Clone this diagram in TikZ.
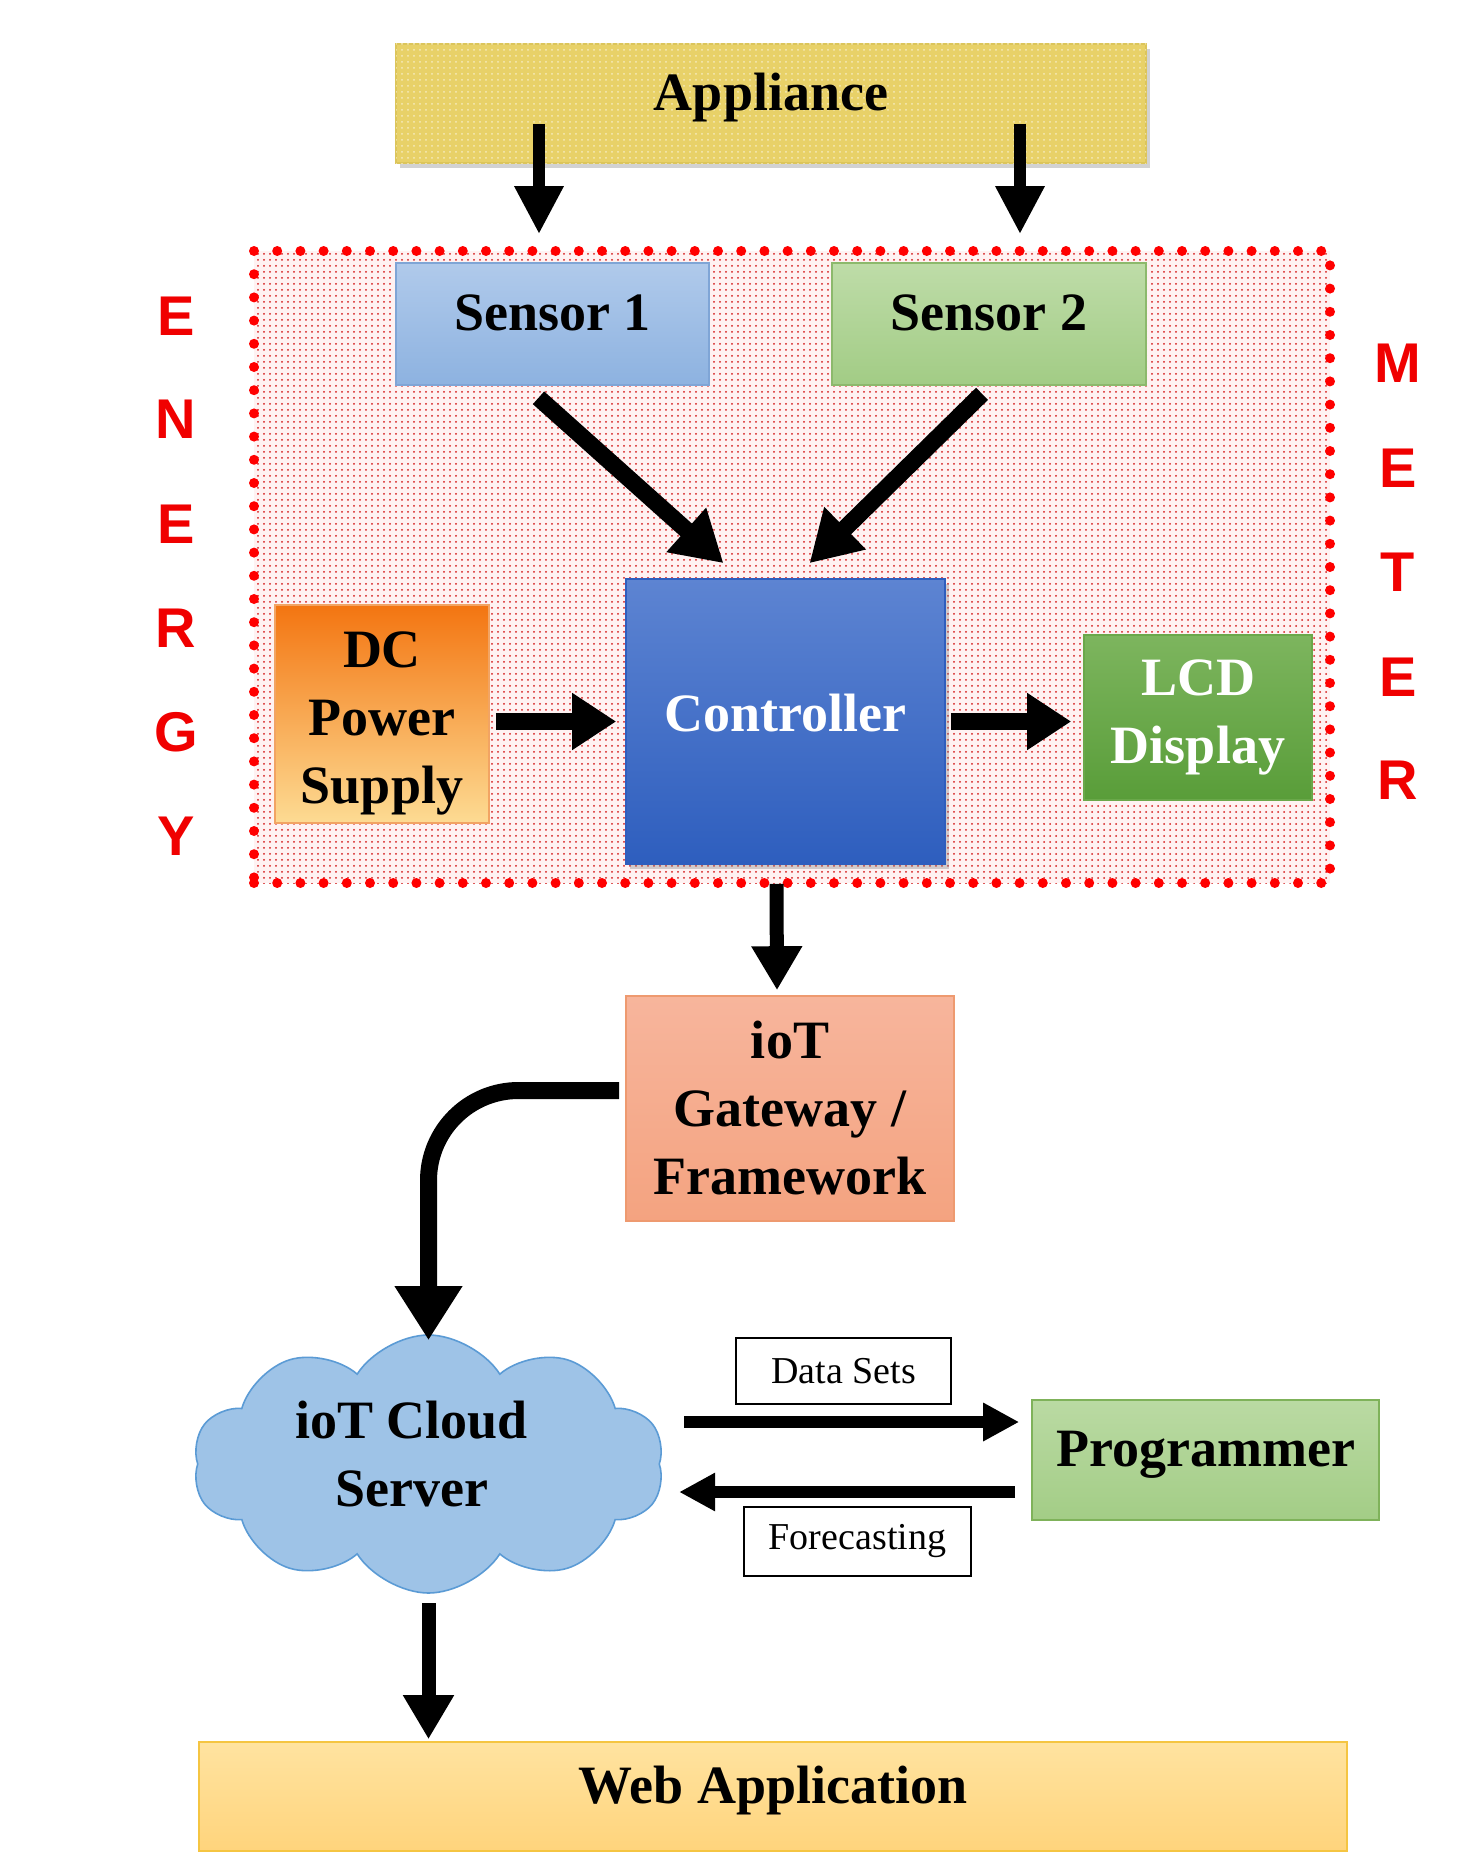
\documentclass[tikz,border=0pt]{standalone}
\usepackage{fontspec}
\setmainfont{Liberation Serif}
\newfontfamily\lsans{Liberation Sans}
\usetikzlibrary{arrows.meta,shapes.symbols,shadows,patterns}
\definecolor{appF}{HTML}{E8D168}
\definecolor{appD}{HTML}{DCC55A}
\definecolor{s1T}{HTML}{B0CAEB}
\definecolor{s1B}{HTML}{8DB2E0}
\definecolor{s1D}{HTML}{7FA5D6}
\definecolor{s2T}{HTML}{BEDCA8}
\definecolor{s2B}{HTML}{A2CC85}
\definecolor{s2D}{HTML}{8CB96C}
\definecolor{ctT}{HTML}{5D84D2}
\definecolor{ctB}{HTML}{2E5EBE}
\definecolor{dcT}{HTML}{F37511}
\definecolor{dcB}{HTML}{FDDB93}
\definecolor{dcD}{HTML}{F2A463}
\definecolor{lcdT}{HTML}{7DB55E}
\definecolor{lcdB}{HTML}{599D39}
\definecolor{lcdD}{HTML}{6AA84A}
\definecolor{gwT}{HTML}{F7B59C}
\definecolor{gwB}{HTML}{F4A380}
\definecolor{gwD}{HTML}{EE9A70}
\definecolor{cloudF}{HTML}{9EC3E7}
\definecolor{cloudD}{HTML}{5B9BD5}
\definecolor{prT}{HTML}{BADAA3}
\definecolor{prB}{HTML}{A3CD86}
\definecolor{prD}{HTML}{7FB25A}
\definecolor{webT}{HTML}{FFE3A0}
\definecolor{webB}{HTML}{FFD47C}
\definecolor{webD}{HTML}{F5C542}
\definecolor{dotred}{HTML}{D41A1A}
\definecolor{letred}{HTML}{F00000}
\begin{document}
\begin{tikzpicture}[x=0.5pt,y=-0.5pt,
  lbl/.style={font=\fontsize{27}{34}\selectfont\bfseries, align=center, inner sep=0pt},
  blk/.style={lbl, draw, line width=0.8pt},
  tbox/.style={draw, line width=1pt, fill=white, inner sep=0pt, font=\fontsize{19}{22}\selectfont},
  redl/.style={font=\lsans\bfseries\fontsize{28}{30}\selectfont, text=letred, inner sep=0pt},
  region/.style={minimum width=538pt, minimum height=316pt, preaction={fill=red!5},
     pattern=dots, pattern color=dotred,
     draw=red, line width=5pt, line cap=round, dash pattern=on 0pt off 11.6pt, inner sep=0pt},
  shad/.style={drop shadow={shadow xshift=2pt, shadow yshift=-2.5pt, opacity=0.35}},
  arrA/.style={line width=6pt, -{Triangle[width=23pt,length=24pt]}},
  arrD/.style={line width=8.5pt, -{Triangle[width=28pt,length=25pt]}},
  arrH/.style={line width=8.5pt, -{Triangle[width=27pt,length=22pt]}},
  arrV/.style={line width=7pt, -{Triangle[width=24pt,length=22pt]}},
  arrC/.style={line width=8.5pt, -{Triangle[width=32pt,length=27pt]}, rounded corners=45pt},
  arrS/.style={line width=6pt, -{Triangle[width=18pt,length=18pt]}}
]
\useasboundingbox (0,0) rectangle (1474,1868);
\fill[white] (0,0) rectangle (1474,1868);

% energy meter region
\node[region] (reg) at (792,567) {};

% blocks
\node[blk, draw=appD, fill=appF, minimum width=375pt, minimum height=59.5pt, shad, text depth=12pt,
      postaction={pattern=dots, pattern color=white!55!appF}] (app) at (771,103.5) {Appliance};
\node[blk, draw=s1D, top color=s1T, bottom color=s1B, minimum width=156.5pt, minimum height=61pt, text depth=11pt] (s1) at (552.5,324) {Sensor 1};
\node[blk, draw=s2D, top color=s2T, bottom color=s2B, minimum width=157pt, minimum height=61pt, text depth=11pt] (s2) at (989,324) {Sensor 2};
\node[blk, draw=ctB, top color=ctT, bottom color=ctB, text=white, minimum width=159.5pt, minimum height=142.5pt, shad, text depth=8.5pt] (ctrl) at (785.5,721.5) {Controller};
\node[blk, draw=dcD, top color=dcT, bottom color=dcB, minimum width=107pt, minimum height=109pt, text height=95pt] (dc) at (382,714) {DC\\Power\\Supply};
\node[blk, draw=lcdD, top color=lcdT, bottom color=lcdB, text=white, minimum width=114pt, minimum height=82.5pt] (lcd) at (1198,717.5) {LCD\\Display};
\node[blk, draw=gwD, top color=gwT, bottom color=gwB, minimum width=164pt, minimum height=112.5pt] (gw) at (790,1108.5) {ioT\\Gateway /\\Framework};
\node[cloud, cloud puffs=10, cloud puff arc=115, aspect=1.83, draw=cloudD, line width=0.8pt, fill=cloudF,
      inner sep=0pt, minimum width=235.5pt, minimum height=129pt] (cloud) at (428.5,1464) {};
\node[lbl] (cloudtxt) at ([shift={(-8.5pt,5pt)}]cloud.center) {ioT Cloud\\Server};
\node[blk, draw=prD, top color=prT, bottom color=prB, minimum width=173.5pt, minimum height=60pt, text depth=10.7pt] (prog) at (1205.5,1460) {Programmer};
\node[blk, draw=webD, top color=webT, bottom color=webB, minimum width=574pt, minimum height=54.5pt, text depth=12pt] (web) at (773,1796.5) {Web Application};
\node[tbox, minimum width=107.5pt, minimum height=33pt] (ds) at (843.5,1371) {Data Sets};
\node[tbox, minimum width=113.5pt, minimum height=34.5pt] (fc) at (857.5,1541.5) {Forecasting};

% side letters
\node[redl] (e1) at (176,316) {E};
\node[redl] (e2) at (176,419) {N};
\node[redl] (e3) at (176,524) {E};
\node[redl] (e4) at (176,628) {R};
\node[redl] (e5) at (176,732) {G};
\node[redl] (e6) at (176,836) {Y};
\node[redl] (m1) at (1398,363) {M};
\node[redl] (m2) at (1398,468) {E};
\node[redl] (m3) at (1398,572) {T};
\node[redl] (m4) at (1398,677) {E};
\node[redl] (m5) at (1398,780) {R};

% connectors
\draw[arrA] ([shift={(-6.75pt,20pt)}]app.south -| s1.south) -- ([shift={(-6.75pt,14pt)}]s1.north);
\draw[arrA] ([shift={(15.5pt,20pt)}]app.south -| s2.south) -- ([shift={(15.5pt,14pt)}]s2.north);
\draw[arrD] ([shift={(-7pt,-6pt)}]s1.south) -- ([shift={(-31pt,7.5pt)}]ctrl.north);
\draw[arrD] ([shift={(-3.5pt,-4pt)}]s2.south) -- ([shift={(12pt,7.5pt)}]ctrl.north);
\draw[arrH] ([xshift=3pt]ctrl.west -| dc.east) -- ([xshift=-4.5pt]ctrl.west);
\draw[arrH] ([xshift=2.5pt]ctrl.east) -- ([xshift=-6pt]ctrl.east -| lcd.west);
\draw[arrV] ([shift={(-4.5pt,-9.5pt)}]ctrl.south) -- ([shift={(-6.5pt,2.5pt)}]gw.north);
\draw[arrC] ([shift={(-3pt,9pt)}]gw.west) -| ([yshift=-3pt]cloud.north);
\coordinate (dsA) at ([shift={(12pt,21pt)}]cloud.east);
\coordinate (dsB) at ([shift={(-6pt,19pt)}]prog.west);
\draw[arrS] (dsA) -- (dsA -| dsB);
\coordinate (fcA) at ([shift={(-8pt,-16pt)}]prog.west);
\coordinate (fcB) at ([shift={(9.5pt,-14pt)}]cloud.east);
\draw[arrS] (fcA) -- (fcA -| fcB);
\coordinate (cwA) at ([yshift=69pt]web.north);
\draw[arrV] (cwA -| cloud.south) -- ([yshift=1pt]cloud.south |- web.north);
\end{tikzpicture}
\end{document}
